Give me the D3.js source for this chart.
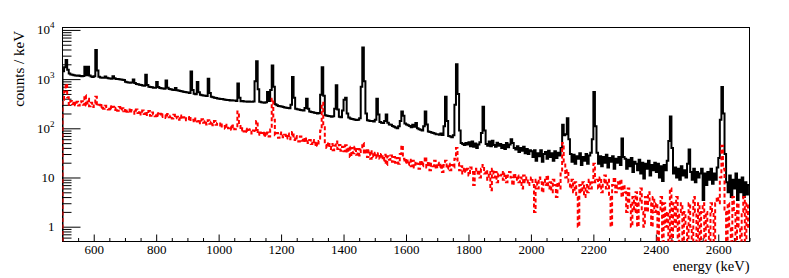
<!DOCTYPE html>
<html>
<head>
<meta charset="utf-8">
<script src="https://cdn.jsdelivr.net/npm/d3@7"></script>
<style>
  body { margin: 0; background: #fff; }
  svg { display: block; }
  text { font-family: "Liberation Serif", "Times New Roman", "DejaVu Serif", serif; fill: #000; }
</style>
</head>
<body>
<svg></svg>
<script>
// spectrum, 5 keV bins from 500 keV, counts / keV
const eMin = 500;
const eMax = 2700;
const binWidth = 5;

const blackCounts = [
  1450,1750,2450,1550,1300,1240,1220,1200,1190,1170,1180,1160,1150,1160,1780,1200,1780,1180,1130,1110,
  1150,3900,1500,1120,1080,1070,1060,1130,1060,1040,1030,1020,1150,1040,1010,1000,990,985,970,960,
  880,865,850,840,850,980,830,800,785,770,755,740,730,1220,760,700,690,680,670,665,
  870,690,660,650,645,640,940,670,630,620,610,600,660,595,585,575,565,555,548,540,
  535,525,1420,600,505,495,870,540,480,472,465,458,455,1020,520,438,428,420,412,405,
  400,392,394,384,382,376,378,368,372,366,368,360,810,420,356,358,350,352,346,350,
  348,345,350,900,2300,620,345,340,336,332,340,550,360,600,1900,700,310,295,285,280,
  276,270,266,262,258,255,300,1100,420,250,245,240,236,232,230,260,400,250,220,215,
  212,208,205,200,205,480,1740,460,185,180,178,175,172,175,250,750,240,172,168,230,
  380,420,200,165,158,155,152,150,148,150,160,700,4400,900,200,145,142,140,140,138,
  150,400,190,135,130,128,140,190,130,120,118,112,108,104,100,110,140,220,180,125,
  120,115,112,105,118,108,128,100,96,93,90,110,220,120,86,84,82,80,78,76,
  76,74,78,73,110,440,140,70,68,66,72,300,2000,500,90,50,48,46,50,47,
  52,43,54,42,49,40,47,52,80,275,90,48,44,54,43,56,46,42,51,44,
  48,40,46,38,50,41,47,60,50,40,37,43,33,40,35,42,31,38,30,36,
  34,26,36,22,31,27,36,21,30,33,24,35,26,31,22,34,25,32,28,40,
  118,72,76,160,60,30,21,29,19,27,24,31,18,26,22,30,19,28,32,60,
  550,110,32,19,27,17,26,20,29,16,25,21,27,15,24,20,26,18,62,26,
  24,15,23,17,25,13,21,19,14,23,12,20,9.5,19,15,22,11,18,14,20,
  13,19,10,17,8.5,18,14,22,55,174,40,12,16,10,15,9,17,11,14,10,
  19,37,13,9,15,8,13,10,12,15,3.5,12,7,13,9,15,7.5,12,9,16,
  25,150,690,200,30,8,5,11,4,9,6,12,3.5,9,5,10,4,8,4.5,7
];

const redCounts = [
  380,560,800,430,300,360,310,355,295,345,290,340,355,300,470,290,400,280,330,270,
  320,440,285,300,262,298,250,288,270,240,282,244,275,236,262,228,270,232,255,222,
  250,218,242,205,236,228,198,240,204,225,190,230,196,218,186,224,180,210,192,176,
  205,178,198,170,192,184,162,195,168,180,158,188,160,172,150,182,154,168,146,160,
  170,140,162,150,132,158,138,150,126,152,130,142,120,146,124,136,115,140,118,128,
  125,104,120,112,98,118,100,110,94,114,96,104,220,112,90,100,86,98,84,94,
  96,78,90,84,140,74,88,80,72,86,70,82,68,95,400,150,72,80,64,76,
  82,66,74,62,78,60,72,84,58,70,62,54,68,56,64,52,62,50,58,48,
  58,46,54,44,55,90,330,110,46,40,52,38,48,36,44,54,38,46,35,42,
  34,45,32,42,26,40,31,42,29,38,28,37,50,30,38,26,36,24,34,26,
  32,25,31,24,30,22,29,18,27,23,28,21,26,20,25,19,30,45,24,20,
  24,18,23,17,22,16,21,19,15,22,17,20,26,16,21,14,19,17,22,15,
  20,16,19,13,18,22,15,19,14,18,16,24,40,20,14,17,12,16,13,15,
  11,16,13,7,15,12,14,10,15,18,12,14,9,13,5.5,15,10,13,8,12,
  11,13,9,12,8,11,13,10,7,12,9,11,8,10,6,11,8,10,7,9,
  10,7,2,9,6,10,8,5,9,7,11,6,8,5,9,7,4,8,6,12,
  50,20,10,14,8,6,9,5,8,4,1,7,5,8,4,7,5,9,6,8,
  19,8,9,6,10,5,8,11,6,9,4,1,7,10,5,8,6,9,4,7,
  5,2,6,3,1,4,2,5,1,3,6,2,1,4,2,5,3,1,4,2,
  3,0,2,4,0,3,1,2,0,6,0,3,1,4,0,2,3,0,2,1,
  0,3,1,0,4,2,0,3,0,2,3,0,2,1,0,3,2,0,3,4,
  3,10,44,15,2,0,3,1,0,4,2,0,3,1,0,2,4,0,3,1
];

const xMajorTicks = [600, 800, 1000, 1200, 1400, 1600, 1800, 2000, 2200, 2400, 2600];
const yMajorTicks = [1, 10, 100, 1000, 10000];
const yTickLabels = [["1", ""], ["10", ""], ["10", "2"], ["10", "3"], ["10", "4"]];

let width = 789;
let height = 278;
let frameLeft = 62.5, frameRight = 749.5, frameTop = 27.5, frameBottom = 241.5;
let yMin = 0.5, yMax = 11200;
let serif = '"Liberation Serif", "Times New Roman", "DejaVu Serif", serif';

let xScale = d3.scaleLinear()
    .domain([eMin, eMax])
    .range([frameLeft, frameRight]);

let yScale = d3.scaleLog()
    .domain([yMin, yMax])
    .range([frameBottom, frameTop]);

let xMinorTicks = d3.range(eMin, eMax + 1, 50).filter(v => !xMajorTicks.includes(v));
let yMinorTicks = [];
[0.1, 1, 10, 100, 1000].forEach(d => {
    d3.range(2, 10).forEach(k => {
        let v = k * d;
        if (v > yMin && v < yMax) yMinorTicks.push(v);
    });
});

let svg = d3.select('svg')
    .attr('width', width)
    .attr('height', height);

svg.append('defs').append('clipPath')
    .attr('id', 'frame')
    .append('rect')
        .attr('x', frameLeft)
        .attr('y', frameTop)
        .attr('width', frameRight - frameLeft)
        .attr('height', frameBottom - frameTop);

svg.append('rect')
    .attr('x', frameLeft)
    .attr('y', frameTop)
    .attr('width', frameRight - frameLeft)
    .attr('height', frameBottom - frameTop)
    .attr('fill', 'none')
    .attr('stroke', '#000')
    .attr('stroke-width', 1);

// ticks point inwards, like ROOT
svg.append('g')
    .attr('transform', `translate(0, ${frameBottom})`)
    .call(d3.axisBottom(xScale).tickValues(xMinorTicks).tickSize(-3.5).tickFormat(''))
    .call(g => g.select('.domain').remove());

svg.append('g')
    .attr('transform', `translate(0, ${frameBottom})`)
    .call(d3.axisBottom(xScale).tickValues(xMajorTicks).tickSize(-7).tickPadding(3).tickFormat(d3.format('d')))
    .call(g => g.select('.domain').remove())
    .attr('font-family', serif)
    .attr('font-size', 13);

svg.append('g')
    .attr('transform', `translate(${frameLeft}, 0)`)
    .call(d3.axisLeft(yScale).tickValues(yMinorTicks).tickSize(-9).tickFormat(''))
    .call(g => g.select('.domain').remove());

svg.append('g')
    .attr('transform', `translate(${frameLeft}, 0)`)
    .call(d3.axisLeft(yScale).tickValues(yMajorTicks).tickSize(-18).tickFormat(''))
    .call(g => g.select('.domain').remove());

let yLabel = svg.append('g')
    .selectAll('text')
    .data(yMajorTicks)
    .enter()
    .append('text')
        .attr('x', frameLeft - 8)
        .attr('y', d => yScale(d))
        .attr('dy', '0.35em')
        .attr('font-size', 13)
        .style('text-anchor', 'end');

yLabel.append('tspan').text((d, i) => yTickLabels[i][0]);
yLabel.append('tspan')
    .attr('font-size', 9)
    .attr('dy', -6)
    .text((d, i) => yTickLabels[i][1]);

function histPoints(counts) {
    let pts = [[eMin, yMin]];
    counts.forEach((c, i) => pts.push([eMin + i * binWidth, Math.max(c, yMin)]));
    pts.push([eMax, Math.max(counts[counts.length - 1], yMin)]);
    return pts;
}

let histLine = d3.line()
    .x(d => xScale(d[0]))
    .y(d => yScale(d[1]))
    .curve(d3.curveStepAfter);

let plot = svg.append('g').attr('clip-path', 'url(#frame)');

plot.append('path')
    .attr('d', histLine(histPoints(blackCounts)))
    .attr('fill', 'none')
    .attr('stroke', '#000')
    .attr('stroke-width', 2);

plot.append('path')
    .attr('d', histLine(histPoints(redCounts)))
    .attr('fill', 'none')
    .attr('stroke', '#ff0000')
    .attr('stroke-width', 2)
    .attr('stroke-dasharray', '4,2.5');

svg.append('text')
    .attr('x', frameRight)
    .attr('y', 270.5)
    .attr('font-size', 14.5)
    .style('text-anchor', 'end')
    .text('energy (keV)');

svg.append('text')
    .attr('transform', 'rotate(-90)')
    .attr('x', -31)
    .attr('y', 24)
    .attr('font-size', 15)
    .style('text-anchor', 'end')
    .text('counts / keV');
</script>
</body>
</html>
